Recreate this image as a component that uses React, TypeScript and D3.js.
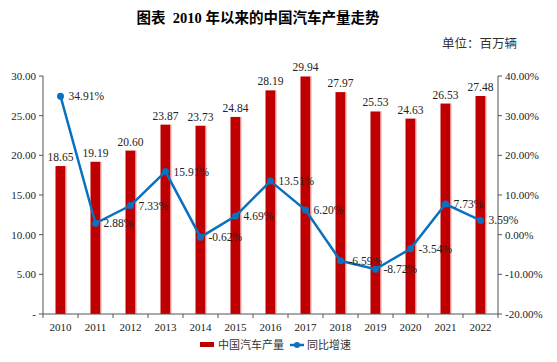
import React from "react";
import * as d3 from "d3";

const years = ["2010","2011","2012","2013","2014","2015","2016","2017","2018","2019","2020","2021","2022"];
const production = [18.65,19.19,20.60,23.87,23.73,24.84,28.19,29.94,27.97,25.53,24.63,26.53,27.48];
const growth = [34.91,2.88,7.33,15.91,-0.62,4.69,13.51,6.20,-6.59,-8.72,-3.54,7.73,3.59];
const leftTicks = [0,5,10,15,20,25,30];
const rightTicks = [-20,-10,0,10,20,30,40];

const W = 557, H = 362;
const left = 43, right = 498, top = 76, bottom = 314;
const serif = "'Times New Roman', 'Liberation Serif', 'Noto Sans CJK SC', serif";
const RED = "#C00000";
const BLUE = "#0A70C0";

export default function App() {
  const x = d3.scaleBand().domain(years).range([left, right]);
  const yL = d3.scaleLinear().domain([0, 30]).range([bottom, top]);
  const yR = d3.scaleLinear().domain([-20, 40]).range([bottom, top]);
  const bw = 10;
  const cx = (y: string) => (x(y) as number) + x.bandwidth() / 2;
  const line = d3.line<number>().x((_, i) => cx(years[i])).y(d => yR(d));
  const boundaries = years.map(y => x(y) as number).concat([right]);
  return (
    <svg width={W} height={H} style={{ position: "absolute", left: 0, top: 0, background: "#fff" }}>
      <text x={258} y={23} textAnchor="middle" fontFamily={serif} fontWeight="bold" fontSize={14.5} xmlSpace="preserve">{"图表  2010 年以来的中国汽车产量走势"}</text>
      <text x={517} y={48} textAnchor="end" fontFamily={serif} fontSize={12.5} fill="#333">单位：百万辆</text>
      {/* bars */}
      {years.map((y, i) => (
        <g key={y}>
          <rect x={cx(y) - bw / 2} y={yL(production[i])} width={bw} height={bottom - yL(production[i])} fill={RED} />
          <rect x={cx(y) + bw / 2} y={yL(production[i])} width={1} height={bottom - yL(production[i])} fill="#F0A0A0" />
          <text x={cx(y)} y={yL(production[i]) - 5} textAnchor="middle" fontFamily={serif} fontSize={11.5} fill="#222">{production[i].toFixed(2)}</text>
        </g>
      ))}
      {/* axes */}
      <line x1={left} x2={left} y1={top} y2={bottom} stroke="#555" />
      <line x1={right} x2={right} y1={top} y2={bottom} stroke="#555" />
      <line x1={left} x2={right} y1={bottom} y2={bottom} stroke="#555" />
      {leftTicks.map(t => (
        <g key={"l" + t}>
          <line x1={left - 4} x2={left} y1={yL(t)} y2={yL(t)} stroke="#555" />
          <text x={left - 7} y={yL(t) + 4} textAnchor="end" fontFamily={serif} fontSize={11} fill="#222">{t === 0 ? "-" : t.toFixed(2)}</text>
        </g>
      ))}
      {rightTicks.map(t => (
        <g key={"r" + t}>
          <line x1={right} x2={right + 4} y1={yR(t)} y2={yR(t)} stroke="#555" />
          <text x={right + 7} y={yR(t) + 4} textAnchor="start" fontFamily={serif} fontSize={11} fill="#222">{t.toFixed(2) + "%"}</text>
        </g>
      ))}
      {boundaries.map((b, i) => (
        <line key={"b" + i} x1={b} x2={b} y1={bottom} y2={bottom + 4} stroke="#555" />
      ))}
      {years.map(y => (
        <text key={"x" + y} x={cx(y)} y={bottom + 17} textAnchor="middle" fontFamily={serif} fontSize={11} fill="#222">{y}</text>
      ))}
      {/* line */}
      <path d={line(growth) || ""} fill="none" stroke={BLUE} strokeWidth={2.5} />
      {growth.map((g, i) => (
        <g key={"g" + i}>
          <circle cx={cx(years[i])} cy={yR(g)} r={3.5} fill={BLUE} />
          <text x={cx(years[i]) + 8} y={yR(g) + 4} fontFamily={serif} fontSize={11.5} fill="#222">{g.toFixed(2) + "%"}</text>
        </g>
      ))}
      {/* legend */}
      <rect x={200} y={342} width={14} height={5} fill={RED} />
      <text x={218} y={349} fontFamily={serif} fontSize={11} fill="#333">中国汽车产量</text>
      <line x1={290} x2={304} y1={345} y2={345} stroke={BLUE} strokeWidth={2.5} />
      <circle cx={297} cy={345} r={3} fill={BLUE} />
      <text x={307} y={349} fontFamily={serif} fontSize={11} fill="#333">同比增速</text>
    </svg>
  );
}
